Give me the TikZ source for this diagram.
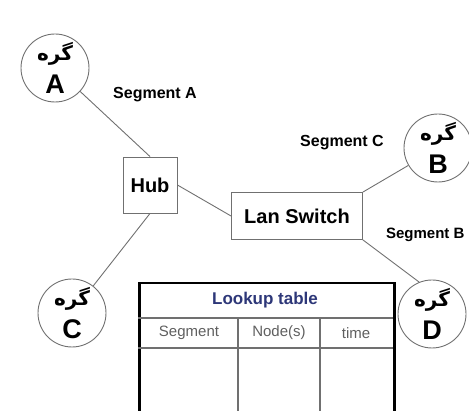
\documentclass[tikz,border=0pt]{standalone}
\usepackage{fontspec}
\setmainfont{Liberation Sans}
\newfontfamily\farsi[Script=Arabic]{DejaVu Sans}
\TeXXeTstate=1
\definecolor{linegray}{RGB}{112,112,112}
\definecolor{titleblue}{RGB}{45,55,120}
\definecolor{headgray}{RGB}{95,95,95}
\newcommand{\gereh}[1]{{\farsi\fontsize{20}{20}\selectfont\beginR گره\endR}\\[6pt]#1}

\begin{document}
\begin{tikzpicture}[
  x=1pt, y=-1pt,
  station/.style={draw=linegray, line width=0.9pt, circle, minimum size=68pt, inner sep=0pt, align=center, font=\bfseries\fontsize{27}{27}\selectfont},
  device/.style={draw=linegray, line width=0.9pt, rectangle, inner sep=0pt, font=\bfseries\fontsize{20}{20}\selectfont},
  seglabel/.style={font=\bfseries\fontsize{16}{16}\selectfont},
  link/.style={draw=linegray, line width=0.9pt},
  cell/.style={font=\fontsize{15}{15}\selectfont, text=headgray}
]
\useasboundingbox (0,0) rectangle (469,411);
% stations and devices
\node[station] (nodeA) at (55,68) {\gereh{A}};
\node[station] (nodeB) at (438,148) {\gereh{B}};
\node[station] (nodeC) at (72,313) {\gereh{C}};
\node[station] (nodeD) at (432,314) {\gereh{D}};
\node[device, minimum width=54pt, minimum height=56pt] (hub) at (150,185) {Hub};
\node[device, minimum width=131pt, minimum height=47pt] (lan) at (297,216) {Lan Switch};

% segment names
\node[seglabel] (segA) at (155,95) {Segment A};
\node[seglabel] (segC) at (342,143) {Segment C};
\node[seglabel, anchor=east, font=\bfseries\fontsize{15}{15}\selectfont] (segB) at (468,235) {Segment B};

\draw[link] (nodeA) -- (hub.north);
\draw[link] (hub.east) -- (lan.west);
\draw[link] (hub.south) -- (nodeC);
\draw[link] (lan.north east) -- (nodeB);
\draw[link] (lan.south east) -- (nodeD.112);

% lookup table
\node[draw=black, line width=2.5pt, minimum width=255pt, minimum height=135pt, inner sep=0pt, anchor=north west] (lookup) at (138,282) {};
\draw[linegray, line width=1.2pt] (138,318) -- (393,318);
\draw[linegray, line width=1.2pt] (138,348) -- (393,348);
\draw[linegray, line width=1.2pt] (238,318) -- (238,417);
\draw[linegray, line width=1.2pt] (320,318) -- (320,417);
\node[font=\bfseries\fontsize{17}{17}\selectfont, text=titleblue] (title) at (265,300) {Lookup table};
\node[cell] (segcol) at (189,333) {Segment};
\node[cell] (nodecol) at (279,333) {Node(s)};
\node[cell] (timecol) at (356,333) {time};
\end{tikzpicture}
\end{document}
